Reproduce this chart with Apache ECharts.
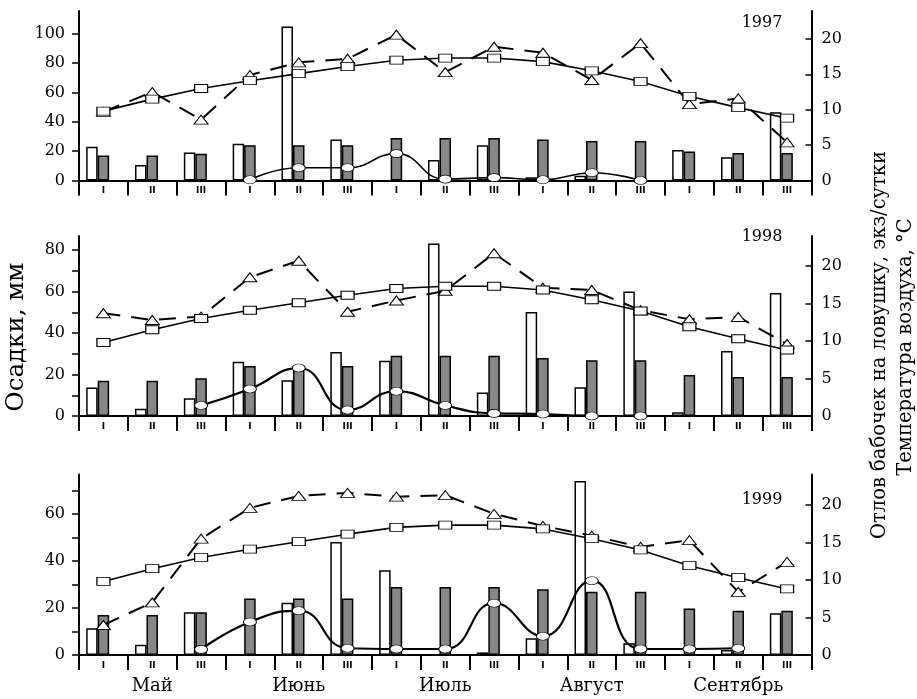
<!DOCTYPE html>
<html><head><meta charset="utf-8">
<script src="https://cdn.jsdelivr.net/npm/echarts@6/dist/echarts.min.js"></script>
<style>html,body{margin:0;padding:0;background:#fff}#c{width:917px;height:699px}</style>
</head><body><div id="c"></div><script>
// ---- data ----
const decades = ['I','II','III','I','II','III','I','II','III','I','II','III','I','II','III'];
const months = ['Май','Июнь','Июль','Август','Сентябрь'];
const years = ['1997','1998','1999'];

// precipitation of the decade, mm (white bars)
const precip1997 = [23, 10.5, 19, 25, 105, 28, null, 14, 24, 2.2, 3.3, null, 20.7, 15.8, 46.5];
const precip1998 = [13.7, 3.5, 8.5, 26.2, 17.2, 30.9, 26.6, 83.2, 11.3, 50.1, 13.9, 60, 1.8, 31.4, 59.3];
const precip1999 = [11.4, 4.4, 18.2, null, 22.3, 48.1, 36.1, null, 1.1, 7.1, 74.1, 5, null, 2.1, 17.8];
// long-term mean precipitation, mm (grey bars)
const precipNorm = [17, 17, 18.2, 24.1, 24.1, 24.1, 29, 29, 29, 28, 26.9, 26.9, 19.8, 18.8, 18.8];
// long-term mean air temperature, °C (squares)
const tempNorm = [9.8, 11.5, 13.0, 14.1, 15.1, 16.1, 17.0, 17.3, 17.3, 16.8, 15.5, 14.0, 11.9, 10.3, 8.8];
// air temperature of the year, °C (triangles)
const temp1997 = [9.7, 12.5, 8.6, 14.9, 16.7, 17.2, 20.6, 15.3, 18.9, 18.05, 14.2, 19.4, 10.8, 11.6, 5.4];
const temp1998 = [13.7, 12.8, 13.25, 18.5, 20.7, 13.9, 15.4, 16.7, 21.7, 17.1, 16.8, 14.1, 12.9, 13.2, 9.6];
const temp1999 = [4.0, 7.0, 15.5, 19.6, 21.2, 21.6, 21.1, 21.3, 18.8, 17.2, 15.9, 14.4, 15.3, 8.4, 12.4];
// moths per trap per day (circles)
const moths1997 = [null, null, null, 0.1, 1.8, 1.8, 3.8, 0.2, 0.4, 0.1, 1.1, 0, null, null, null];
const moths1998 = [null, null, 1.4, 3.6, 6.4, 0.8, 3.3, 1.4, 0.35, 0.27, 0, 0, null, null, null];
const moths1999 = [null, null, 0.75, 4.4, 5.9, 0.9, 0.8, 0.8, 6.9, 2.5, 9.9, 0.8, 0.8, 0.9, null];

// axis ticks / labels
const leftTicks = [[0,20,40,60,80,100],[0,10,20,30,40,50,60,70,80],[0,10,20,30,40,50,60,70]];
const leftLabels = [[0,20,40,60,80,100],[0,20,40,60,80],[0,20,40,60]];
const rightTicks = [0,5,10,15,20];

const precipYears = [precip1997, precip1998, precip1999];
const tempYears = [temp1997, temp1998, temp1999];
const mothYears = [moths1997, moths1998, moths1999];

// ---- layout ----
const FONT = "'DejaVu Serif', serif";
const gridBoxes = [
  {top: 11, height: 169.5, leftMax: 115.5, rightMax: 23.95},
  {top: 236, height: 180, leftMax: 86.8, rightMax: 24},
  {top: 474.5, height: 180.5, leftMax: 76.9, rightMax: 24.05}
];

const grid = [], xAxis = [], yAxis = [], series = [];
gridBoxes.forEach((g, i) => {
  grid.push({left: 79, width: 732.5, top: g.top, height: g.height, containLabel: false});
  xAxis.push({
    type: 'category', gridIndex: i, data: decades, boundaryGap: true,
    axisLine: {lineStyle: {color: '#000', width: 2}},
    axisTick: {show: true, length: 15, inside: false, lineStyle: {color: '#000', width: 2}},
    axisLabel: {color: '#000', fontFamily: "'DejaVu Sans', sans-serif", fontWeight: 'bold', fontSize: 9, margin: 6},
    splitLine: {show: false}
  });
  yAxis.push({
    type: 'value', gridIndex: i, position: 'left', min: 0, max: g.leftMax,
    axisLine: {show: true, lineStyle: {color: '#000', width: 2}},
    axisTick: {show: true, length: 7, customValues: leftTicks[i], lineStyle: {color: '#000', width: 1.5}},
    axisLabel: {color: '#000', fontFamily: FONT, fontSize: 16, margin: 14, customValues: leftLabels[i]},
    splitLine: {show: false}
  });
  yAxis.push({
    type: 'value', gridIndex: i, position: 'right', min: 0, max: g.rightMax,
    axisLine: {show: true, lineStyle: {color: '#000', width: 2}},
    axisTick: {show: true, length: 6, inside: true, customValues: rightTicks, lineStyle: {color: '#000', width: 1.5}},
    axisLabel: {color: '#000', fontFamily: FONT, fontSize: 16, margin: 10, customValues: rightTicks},
    splitLine: {show: false}
  });
  const yl = i * 2, yr = i * 2 + 1;
  series.push({
    type: 'bar', xAxisIndex: i, yAxisIndex: yl, data: precipYears[i], barWidth: 11.5, barGap: '0%',
    itemStyle: {color: '#fff', borderColor: '#000', borderWidth: 1.5}, z: 2, silent: true
  });
  series.push({
    type: 'bar', xAxisIndex: i, yAxisIndex: yl, data: precipNorm, barWidth: 11.5, barGap: '0%',
    itemStyle: {color: '#878787', borderColor: '#000', borderWidth: 1.5}, z: 2, silent: true
  });
  // empty slot so the grey bar sits on the decade centre
  series.push({
    type: 'bar', xAxisIndex: i, yAxisIndex: yl, data: decades.map(() => '-'), barWidth: 11.5, barGap: '0%',
    itemStyle: {color: 'transparent'}, silent: true
  });
  series.push({
    type: 'line', xAxisIndex: i, yAxisIndex: yr, data: tempNorm,
    symbol: 'rect', symbolSize: [13, 8], showAllSymbol: true,
    lineStyle: {color: '#000', width: 1.6},
    itemStyle: {color: '#fff', borderColor: '#000', borderWidth: 1},
    z: 5, silent: true, animation: false
  });
  series.push({
    type: 'line', xAxisIndex: i, yAxisIndex: yr, data: tempYears[i],
    symbol: 'triangle', symbolSize: [14, 9], showAllSymbol: true,
    lineStyle: {color: '#000', width: 2, type: [17, 11]},
    itemStyle: {color: '#fff', borderColor: '#000', borderWidth: 1},
    z: 4, silent: true, animation: false
  });
  series.push({
    type: 'line', xAxisIndex: i, yAxisIndex: yr, data: mothYears[i], smooth: 0.5, connectNulls: false,
    symbol: 'circle', symbolSize: [13, 8], showAllSymbol: true,
    lineStyle: {color: '#000', width: i === 0 ? 1.6 : 2.2},
    itemStyle: {color: '#fff', borderColor: '#000', borderWidth: 0.8},
    z: 6, silent: true, animation: false
  });
});
// month names under the lowest panel
xAxis.push({
  type: 'category', gridIndex: 2, data: months, position: 'bottom', offset: 22,
  axisLine: {show: false}, axisTick: {show: false},
  axisLabel: {color: '#000', fontFamily: FONT, fontSize: 18, margin: 0}
});

const graphic = [
  {type: 'text', x: 762, y: 23, style: {text: years[0], font: "16px 'DejaVu Serif'", fill: '#000', textAlign: 'center', textVerticalAlign: 'middle'}},
  {type: 'text', x: 762, y: 237, style: {text: years[1], font: "16px 'DejaVu Serif'", fill: '#000', textAlign: 'center', textVerticalAlign: 'middle'}},
  {type: 'text', x: 762, y: 500, style: {text: years[2], font: "16px 'DejaVu Serif'", fill: '#000', textAlign: 'center', textVerticalAlign: 'middle'}},
  {type: 'text', x: 17, y: 337, rotation: Math.PI / 2, style: {text: 'Осадки, мм', font: "24.5px 'DejaVu Serif'", fill: '#000', textAlign: 'center', textVerticalAlign: 'middle'}},
  {type: 'text', x: 880, y: 345, rotation: Math.PI / 2, style: {text: 'Отлов бабочек на ловушку, экз/сутки', font: "19.5px 'DejaVu Serif'", fill: '#000', textAlign: 'center', textVerticalAlign: 'middle'}},
  {type: 'text', x: 906, y: 347, rotation: Math.PI / 2, style: {text: 'Температура воздуха, °С', font: "19.5px 'DejaVu Serif'", fill: '#000', textAlign: 'center', textVerticalAlign: 'middle'}}
];

const chart = echarts.init(document.getElementById('c'), null, {renderer: 'canvas'});
chart.setOption({animation: false, backgroundColor: '#fff', grid, xAxis, yAxis, series, graphic});
</script></body></html>
